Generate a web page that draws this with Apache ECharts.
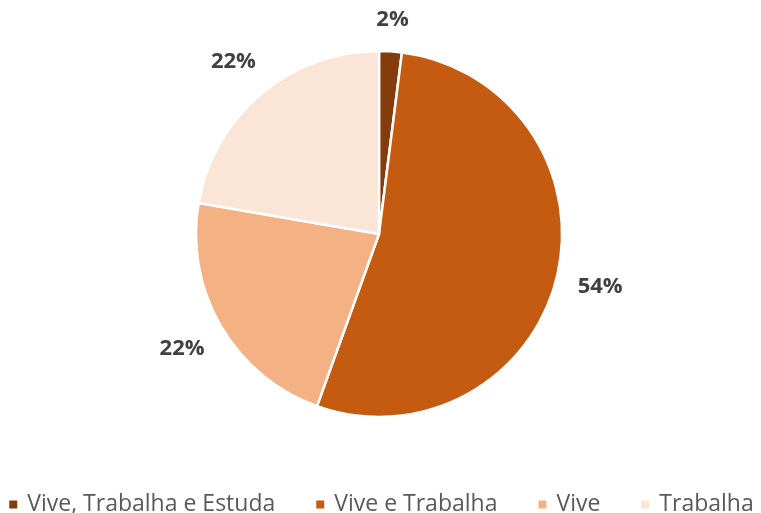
<!DOCTYPE html>
<html><head><meta charset="utf-8">
<script src="https://cdn.jsdelivr.net/npm/echarts@6/dist/echarts.min.js"></script>
<style>html,body{margin:0;padding:0;background:#fff}#c{width:761px;height:513px}</style>
</head><body><div id="c"></div>
<script>
const categories = ['Vive, Trabalha e Estuda', 'Vive e Trabalha', 'Vive', 'Trabalha'];
const values = [2.0, 53.5, 22.2, 22.3];
const colors = ['#843C0C', '#C55A11', '#F4B183', '#FBE5D6'];

const CX = 379, CY = 234, R = 183;
const total = values.reduce((a, b) => a + b, 0);
function midAngle(i) {
  let s = 0;
  for (let k = 0; k < i; k++) s += values[k];
  return (s + values[i] / 2) / total * 2 * Math.PI;
}

const chart = echarts.init(document.getElementById('c'));
chart.setOption({
  animation: false,
  color: colors,
  legend: {
    top: 488,
    left: 'center',
    icon: 'rect',
    itemWidth: 10,
    itemHeight: 10,
    itemGap: 39,
    textStyle: { fontFamily: 'Open Sans', fontSize: 23, color: '#595959', padding: [0, 0, 0, 4] },
    data: categories
  },
  series: [{
    type: 'pie',
    center: [CX, CY],
    radius: [0, R],
    startAngle: 90,
    clockwise: true,
    itemStyle: { borderColor: '#fff', borderWidth: 2.5 },
    label: {
      show: true,
      position: 'outside',
      formatter: p => Math.round(p.value / total * 100) + '%',
      fontFamily: 'Open Sans',
      fontWeight: 'bold',
      fontSize: 22,
      color: '#404040'
    },
    labelLine: { show: false, length: 20, length2: 0 },
    labelLayout: function (p) {
      const a = midAngle(p.dataIndex);
      const dx = Math.sin(a), dy = -Math.cos(a);
      const w = p.labelRect.width, h = p.labelRect.height;
      const d = R + 20 + Math.abs(dx) * w / 2 + Math.abs(dy) * h / 2;
      return { x: CX + dx * d, y: CY + dy * d, align: 'center', verticalAlign: 'middle' };
    },
    data: categories.map((n, i) => ({ name: n, value: values[i] }))
  }]
});
</script></body></html>
